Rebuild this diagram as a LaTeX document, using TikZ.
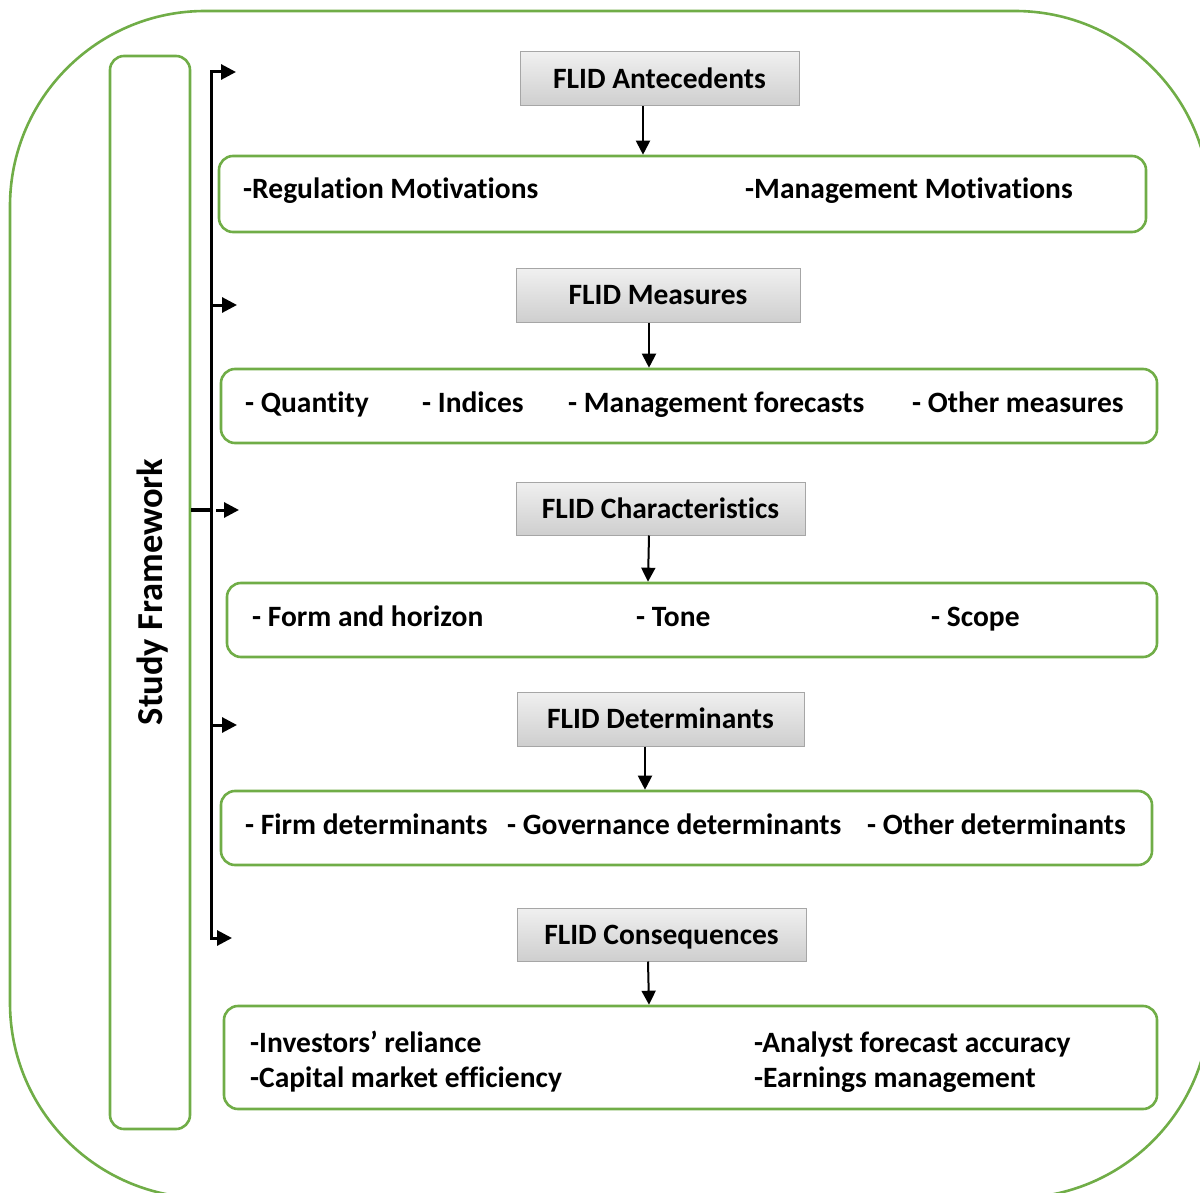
\documentclass[tikz,border=0pt]{standalone}
\usepackage{fontspec}
\setmainfont[Ligatures=NoCommon]{Carlito}
\usetikzlibrary{arrows.meta}
\definecolor{grn}{HTML}{70AD47}
\definecolor{gborder}{HTML}{A6A6A6}
\tikzset{
  graybox/.style={draw=gborder, line width=1pt, top color=gray!12, bottom color=gray!38, inner sep=0pt, text height=19pt, text depth=-6pt, font=\fontsize{29.5}{34}\selectfont\bfseries},
  greenbox/.style={draw=grn, line width=2.6pt, rounded corners=14pt, inner sep=0pt},
  itemtxt/.style={anchor=base west, inner sep=0pt, font=\fontsize{29.5}{34}\selectfont\bfseries},
  downarr/.style={line width=2pt, -{Triangle[length=14pt,width=14pt]}},
  sidearr/.style={line width=3pt, -{Triangle[length=15pt,width=15pt]}},
}
\begin{document}
\begin{tikzpicture}[x=1pt,y=-1pt]
\useasboundingbox (0,0) rectangle (1200,1193);
\begin{scope}
\clip (0,0) rectangle (1200,1193);
\draw[grn, line width=2.6pt, rounded corners=195pt] (10,11) rectangle (1210,1198);
\end{scope}
% study framework box
\node[draw=grn, line width=2.6pt, rounded corners=14pt, minimum width=80, minimum height=1073, inner sep=0pt] (sf) at (150,592.5) {};
\node[rotate=90, inner sep=0pt, text height=24pt, text depth=0pt, font=\fontsize{36.5}{40}\selectfont\bfseries] (sft) at (150,592) {Study Framework};
% spine
\coordinate (st) at (211,72);
\coordinate (sb) at (211,938);
\coordinate (e1) at (236,72);
\coordinate (e2) at (237,305);
\coordinate (e3) at (239,510);
\coordinate (e4) at (237,725);
\coordinate (e5) at (232,938);
\coordinate (s3) at (211,510);
\coordinate (m3) at (216,510);
\coordinate (s2) at (211,305);
\coordinate (s4) at (211,725);
\draw[line width=3pt] ([yshift=1.5pt]st) -- ([yshift=-1.5pt]sb);
\draw[sidearr] (st) -- (e1);
\draw[sidearr] (s2) -- (e2);
\draw[line width=4pt] (sf.east |- s3) -- (s3);
\draw[sidearr] (m3) -- (e3);
\draw[sidearr] (s4) -- (e4);
\draw[sidearr] (sb) -- (e5);
% gray boxes
\node[graybox, minimum width=279, minimum height=54] (g1) at (659.5,79) {FLID Antecedents};
\node[graybox, minimum width=284, minimum height=53] (g2) at (658,295.5) {FLID Measures};
\node[graybox, minimum width=289, minimum height=53] (g3) at (660.5,508.5) {FLID Characteristics};
\node[graybox, minimum width=287, minimum height=54] (g4) at (660.5,719) {FLID Determinants};
\node[graybox, minimum width=289, minimum height=53] (g5) at (661.5,934.5) {FLID Consequences};
% green boxes
\node[greenbox, minimum width=927, minimum height=76] (b1) at (682.5,194) {};
\node[greenbox, minimum width=936, minimum height=74] (b2) at (689,406) {};
\node[greenbox, minimum width=930, minimum height=74] (b3) at (692,620) {};
\node[greenbox, minimum width=931, minimum height=74] (b4) at (686.5,828) {};
\node[greenbox, minimum width=933, minimum height=103] (b5) at (690.5,1057.5) {};
% arrows down
\draw[downarr] ([xshift=-16.5pt]g1.south) -- ([xshift=-39.5pt]b1.north);
\draw[downarr] ([xshift=-9pt]g2.south) -- ([xshift=-40pt]b2.north);
\draw[downarr] ([xshift=-11.5pt]g3.south) -- ([xshift=-44pt]b3.north);
\draw[downarr] ([xshift=-15.5pt]g4.south) -- ([xshift=-41.5pt]b4.north);
\draw[downarr] ([xshift=-13.5pt]g5.south) -- ([xshift=-41.5pt]b5.north);
% texts
\node[itemtxt] (t11) at (243,199) {-Regulation Motivations};
\node[itemtxt] (t12) at (745,199) {-Management Motivations};
\node[itemtxt] (t21) at (245,412) {- Quantity};
\node[itemtxt] (t22) at (422,412) {- Indices};
\node[itemtxt] (t23) at (568,412) {- Management forecasts};
\node[itemtxt] (t24) at (912,412) {- Other measures};
\node[itemtxt] (t31) at (252,626) {- Form and horizon};
\node[itemtxt] (t32) at (636,626) {- Tone};
\node[itemtxt] (t33) at (931,626) {- Scope};
\node[itemtxt] (t41) at (245,834) {- Firm determinants};
\node[itemtxt] (t42) at (507,834) {- Governance determinants};
\node[itemtxt] (t43) at (867,834) {- Other determinants};
\node[itemtxt] (t51) at (250,1052) {-Investors’ reliance};
\node[itemtxt] (t52) at (250,1087) {-Capital market efficiency};
\node[itemtxt] (t53) at (754,1052) {-Analyst forecast accuracy};
\node[itemtxt] (t54) at (754,1087) {-Earnings management};
\end{tikzpicture}
\end{document}
